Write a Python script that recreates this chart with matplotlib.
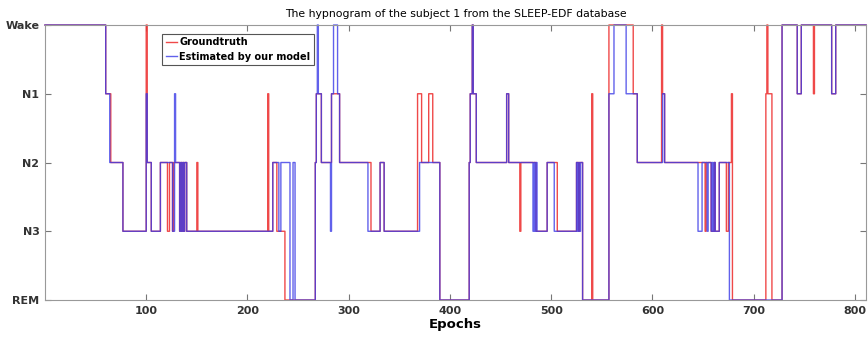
import numpy as np
from matplotlib import pyplot as plt

# sleep stages, plotted 0 (REM) .. 4 (Wake)
stage_names = ["REM", "N3", "N2", "N1", "Wake"]
n_epochs = 811

# groundtruth: epoch where a new stage starts, and that stage
truth_start = [0, 60, 65, 77, 100, 101, 105, 114, 121, 123, 126, 127, 133, 134, 135, 136, 137, 138, 140,
               150, 151, 220, 221, 225, 229, 237, 267, 268, 273, 283, 291, 322, 331, 335, 368, 372,
               379, 383, 390, 419, 420, 422, 423, 426, 456, 458, 469, 470, 485, 496, 506, 525, 527,
               528, 531, 540, 541, 557, 581, 585, 609, 610, 612, 652, 653, 658, 661, 662, 666, 673,
               675, 678, 679, 712, 713, 714, 718, 728, 743, 747, 759, 760, 777, 781]
truth_stage = [4, 3, 2, 1, 4, 2, 1, 2, 1, 2, 1, 2, 1, 2, 1, 2, 1, 2, 1,
               2, 1, 3, 1, 2, 1, 0, 2, 3, 2, 3, 2, 1, 2, 1, 3, 2,
               3, 2, 0, 2, 3, 4, 3, 2, 3, 2, 1, 2, 1, 2, 1, 2, 1,
               2, 0, 3, 0, 4, 3, 2, 4, 3, 2, 1, 2, 1, 2, 1, 2, 1,
               2, 3, 0, 3, 4, 3, 0, 4, 3, 4, 3, 4, 3, 4]

# model output
model_start = [0, 60, 64, 77, 100, 101, 105, 114, 126, 128, 129, 133, 134, 135, 136, 137, 138, 140,
               225, 231, 233, 242, 245, 247, 267, 268, 269, 270, 273, 282, 283, 285, 289, 291,
               319, 331, 335, 370, 390, 419, 420, 422, 423, 426, 456, 458, 482, 483, 484, 485,
               486, 496, 503, 525, 526, 527, 528, 529, 531, 557, 562, 574, 585, 610, 612, 645,
               649, 654, 655, 658, 659, 660, 661, 662, 666, 676, 728, 743, 747, 777, 781]
model_stage = [4, 3, 2, 1, 3, 2, 1, 2, 1, 3, 2, 1, 2, 1, 2, 1, 2, 1,
               2, 1, 2, 0, 2, 0, 2, 3, 4, 3, 2, 1, 3, 4, 3, 2,
               1, 2, 1, 2, 0, 2, 3, 4, 3, 2, 3, 2, 1, 2, 1, 2,
               1, 2, 1, 2, 1, 2, 1, 2, 0, 3, 4, 3, 2, 3, 2, 1,
               2, 1, 2, 1, 2, 1, 2, 1, 2, 0, 4, 3, 4, 3, 4]


def expand(starts, stages):
    ep = np.arange(0, n_epochs + 1)
    idx = np.searchsorted(starts, ep, side="right") - 1
    return ep, np.array(stages)[idx]


x1, y1 = expand(truth_start, truth_stage)
x2, y2 = expand(model_start, model_stage)

fig = plt.figure(figsize=(8.68, 3.38), dpi=100)
ax = fig.add_axes([0.0518, 0.1124, 0.946, 0.8136])
ax.step(x1, y1, where="post", color="#ee3535", lw=1.0, alpha=0.9, clip_on=False, label="Groundtruth")
ax.step(x2, y2, where="post", color="#3a3ae6", lw=1.0, alpha=0.8, clip_on=False, label="Estimated by our model")

ax.set_xlim(0, n_epochs)
ax.set_ylim(0, 4)
ax.set_yticks(range(5))
ax.set_yticklabels(stage_names, fontweight="bold", fontsize=8, color="#333333")
ax.set_xticks(range(100, 900, 100))
ax.set_xticklabels([str(v) for v in range(100, 900, 100)], fontweight="bold", fontsize=8, color="#333333")
ax.tick_params(direction="in", top=True, right=True, length=4, color="#777777", pad=4)
for s in ax.spines.values():
    s.set_color("#999999")
    s.set_linewidth(0.8)

ax.set_title("The hypnogram of the subject 1 from the SLEEP-EDF database", fontsize=7.8, pad=6)
ax.set_xlabel("Epochs", fontweight="bold", fontsize=9.5, labelpad=2)

leg = ax.legend(loc="upper left", bbox_to_anchor=(0.143, 0.967), fancybox=False, framealpha=1,
                edgecolor="#555555", prop={"weight": "bold", "size": 7}, handlelength=1.2,
                handletextpad=0.2, borderpad=0.35, labelspacing=0.45, borderaxespad=0)
leg.get_frame().set_linewidth(0.8)

plt.savefig("out.png", dpi=100)
